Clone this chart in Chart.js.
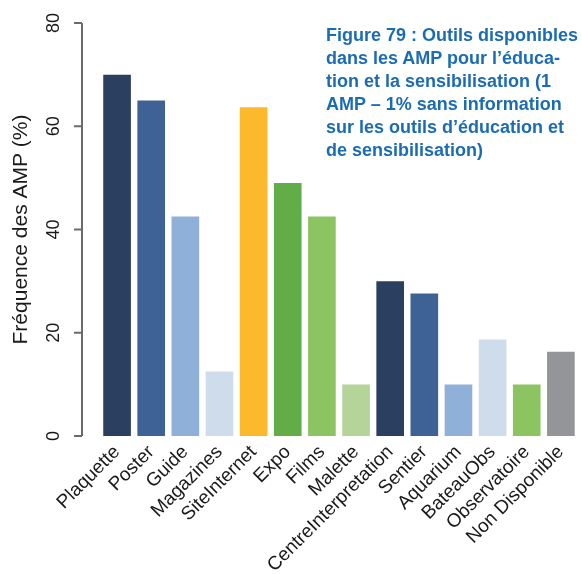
<!DOCTYPE html>
<html>
<head>
<meta charset="utf-8">
<script src="https://cdn.jsdelivr.net/npm/chart.js@4.4.1/dist/chart.umd.min.js"></script>
<style>
  html, body { margin: 0; padding: 0; background: #fff; }
  #wrap { position: relative; width: 582px; height: 574px; overflow: hidden; }
  #caption {
    position: absolute; left: 326px; top: 24px;
    font-family: "Liberation Sans", Arial, sans-serif;
    font-weight: bold; font-size: 18px; line-height: 23px;
    color: #1b6cb3; white-space: nowrap;
  }
</style>
</head>
<body>
<div id="wrap">
  <canvas id="chart" width="582" height="574"></canvas>
  <div id="caption">Figure 79 : Outils disponibles<br>dans les AMP pour l’éduca-<br>tion et la sensibilisation (1<br>AMP – 1% sans information<br>sur les outils d’éducation et<br>de sensibilisation)</div>
</div>
<script>
// outils d'éducation et fréquence (%)
const categories = ['Plaquette', 'Poster', 'Guide', 'Magazines', 'SiteInternet', 'Expo', 'Films',
    'Malette', 'CentreInterpretation', 'Sentier', 'Aquarium', 'BateauObs', 'Observatoire', 'Non Disponible'];
const frequences = [70, 65, 42.5, 12.5, 63.7, 49, 42.5, 10, 30, 27.6, 10, 18.7, 10, 16.3];
const couleurs = ['#2b3f61', '#3e6296', '#8fb0d9', '#cfdcec', '#fbb92b', '#62ad47', '#8cc462',
    '#b5d49a', '#2b3f61', '#3e6296', '#8fb0d9', '#cfdcec', '#8cc462', '#939598'];
const yTicks = [0, 20, 40, 60, 80];
const yTitle = 'Fréquence des AMP (%)';

const FONT = '"Liberation Sans", Arial, sans-serif';

// axe Y façon R : décalé à gauche des barres
const axeR = {
    id: 'axeR',
    afterDraw(chart) {
        const ctx = chart.ctx;
        const y = chart.scales.y;
        const x0 = chart.chartArea.left - 18;
        const yBas = y.getPixelForValue(yTicks[0]);
        const yHaut = y.getPixelForValue(yTicks[yTicks.length - 1]);
        ctx.save();
        ctx.setLineDash([]);
        ctx.strokeStyle = '#6b6b6b';
        ctx.lineWidth = 2;
        ctx.beginPath();
        ctx.moveTo(x0, yBas);
        ctx.lineTo(x0, yHaut);
        ctx.stroke();
        yTicks.forEach(v => {
            const py = y.getPixelForValue(v);
            ctx.beginPath();
            ctx.moveTo(x0 - 8, py);
            ctx.lineTo(x0, py);
            ctx.stroke();
        });

        ctx.fillStyle = '#1a1a1a';
        ctx.font = '18px ' + FONT;
        ctx.textAlign = 'center';
        ctx.textBaseline = 'middle';
        yTicks.forEach(v => {
            ctx.save();
            ctx.translate(54, y.getPixelForValue(v));
            ctx.rotate(-Math.PI / 2);
            ctx.fillText(String(v), 0, 0);
            ctx.restore();
        });

        ctx.font = '21px ' + FONT;
        ctx.translate(21, (yBas + yHaut) / 2);
        ctx.rotate(-Math.PI / 2);
        ctx.fillText(yTitle, 0, 0);
        ctx.restore();
    }
};

new Chart(document.getElementById('chart'), {
    type: 'bar',
    data: {
        labels: categories,
        datasets: [{
            data: frequences,
            backgroundColor: couleurs,
            borderWidth: 0,
            barPercentage: 0.81,
            categoryPercentage: 1
        }]
    },
    options: {
        responsive: false,
        animation: false,
        layout: { padding: { left: 100, top: 23, right: 0 } },
        plugins: { legend: { display: false }, tooltip: { enabled: false } },
        scales: {
            x: {
                grid: { display: false, drawTicks: false },
                border: { display: false },
                ticks: {
                    color: '#1a1a1a',
                    font: { family: FONT, size: 19 },
                    minRotation: 45, maxRotation: 45,
                    padding: 5,
                    autoSkip: false
                },
                afterFit(scale) { scale.height = 138; }
            },
            y: {
                display: false,
                min: 0, max: 80
            }
        }
    },
    plugins: [axeR]
});
</script>
</body>
</html>
